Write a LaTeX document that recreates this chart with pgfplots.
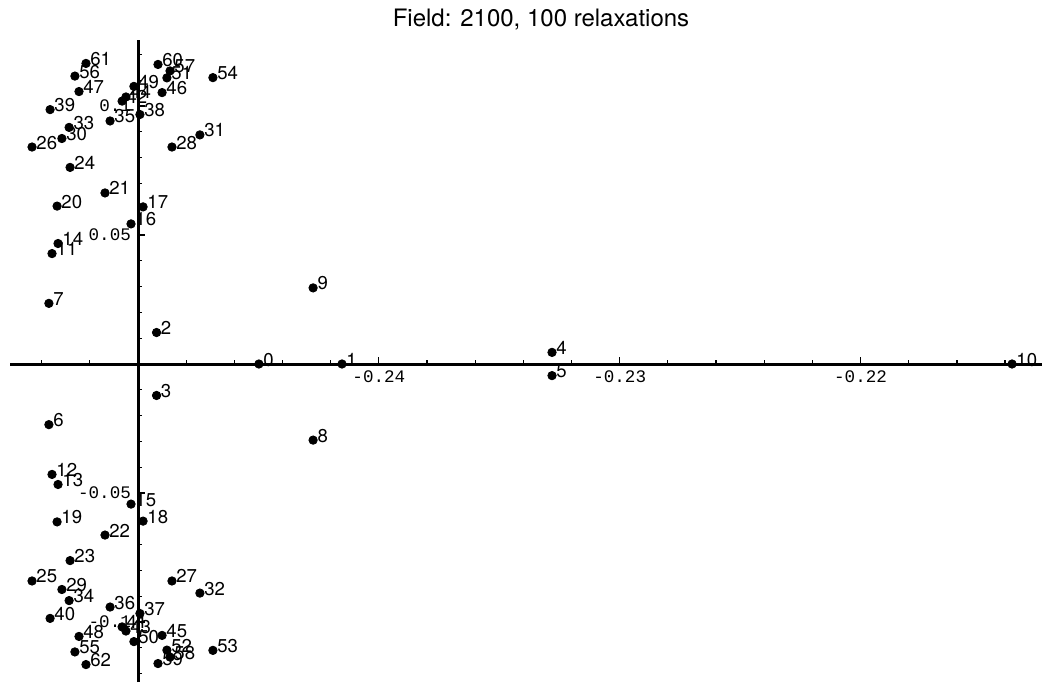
\documentclass[border=0pt]{standalone}
\usepackage{fontspec}
\setmainfont{TeX Gyre Heros}
\newfontfamily\monofont{Liberation Mono}
\usepackage{pgfplots}
\pgfplotsset{compat=1.18}
\usepackage{pgfplotstable}

\pgfplotstableread{
label x y
0 -0.24498 0
1 -0.24153 0
2 -0.24923 0.0122
3 -0.24923 -0.0122
4 -0.23281 0.0045
5 -0.23281 -0.0045
6 -0.25370 -0.0235
7 -0.25370 0.0235
8 -0.24273 -0.0295
9 -0.24273 0.0295
10 -0.21371 0
11 -0.25357 0.0428
12 -0.25357 -0.0428
13 -0.25332 -0.0467
14 -0.25332 0.0467
15 -0.25029 -0.0543
16 -0.25029 0.0543
17 -0.24979 0.0609
18 -0.24979 -0.0609
19 -0.25336 -0.0612
20 -0.25336 0.0612
21 -0.25137 0.0663
22 -0.25137 -0.0663
23 -0.25282 -0.0762
24 -0.25282 0.0762
25 -0.25440 -0.0841
26 -0.25440 0.0841
27 -0.24859 -0.0841
28 -0.24859 0.0841
29 -0.25316 -0.0874
30 -0.25316 0.0874
31 -0.24743 0.0888
32 -0.24743 -0.0888
33 -0.25286 0.0917
34 -0.25286 -0.0917
35 -0.25116 0.0942
36 -0.25116 -0.0942
37 -0.24992 -0.0967
38 -0.24992 0.0967
39 -0.25365 0.0986
40 -0.25365 -0.0986
41 -0.25066 -0.1019
42 -0.25066 0.1019
43 -0.25050 -0.1035
44 -0.25050 0.1035
45 -0.24900 -0.1052
46 -0.24900 0.1052
47 -0.25245 0.1056
48 -0.25245 -0.1056
49 -0.25017 0.1076
50 -0.25017 -0.1076
51 -0.24880 0.1109
52 -0.24880 -0.1109
53 -0.24689 -0.1110
54 -0.24689 0.1110
55 -0.25262 -0.1116
56 -0.25262 0.1116
57 -0.24867 0.1136
58 -0.24867 -0.1136
59 -0.24917 -0.1161
60 -0.24917 0.1161
61 -0.25216 0.1165
62 -0.25216 -0.1165
}\pts

\begin{document}
\begin{tikzpicture}
\useasboundingbox (-5pt,0pt) rectangle (516pt,341pt);
\begin{axis}[
  at={(0pt,0pt)}, anchor=south west,
  scale only axis, width=516pt, height=321pt,
  xmin=-0.0053145, xmax=0.037534, ymin=-0.12326, ymax=0.12558,
  axis lines=middle,
  axis line style={-, line width=1.5pt, black},
  clip=false,
  scaled x ticks=false, scaled y ticks=false,
  xtick={0.01,0.02,0.03}, xticklabels={-0.24,-0.23,-0.22},
  ytick={-0.1,-0.05,0.05,0.1}, yticklabels={-0.1,-0.05,0.05,0.1},
  minor xtick={-0.004,-0.002,0.002,0.004,0.006,0.008,0.012,0.014,0.016,0.018,0.022,0.024,0.026,0.028,0.032,0.034,0.036},
  minor ytick={-0.12,-0.11,-0.09,-0.08,-0.07,-0.06,-0.04,-0.03,-0.02,-0.01,0.01,0.02,0.03,0.04,0.06,0.07,0.08,0.09,0.11,0.12},
  tick align=inside,
  major tick length=3.5pt, minor tick length=2pt,
  tick style={black, line width=0.6pt},
  ticklabel style={font=\monofont\fontsize{8.8}{10}\selectfont},
]
\addplot[only marks, mark=*, mark size=2.1pt, black,
  nodes near coords, point meta=explicit symbolic,
  every node near coord/.append style={anchor=base west, inner sep=0pt, xshift=2pt, yshift=-1pt, font=\fontsize{9.3}{10}\selectfont, text=black}]
  table[x expr=\thisrow{x}+0.25, y=y, meta=label] {\pts};
\end{axis}
\node[anchor=base, font=\fontsize{12}{14}\selectfont] at (265.5pt,327.5pt) {Field: 2100, 100 relaxations};
\end{tikzpicture}
\end{document}
